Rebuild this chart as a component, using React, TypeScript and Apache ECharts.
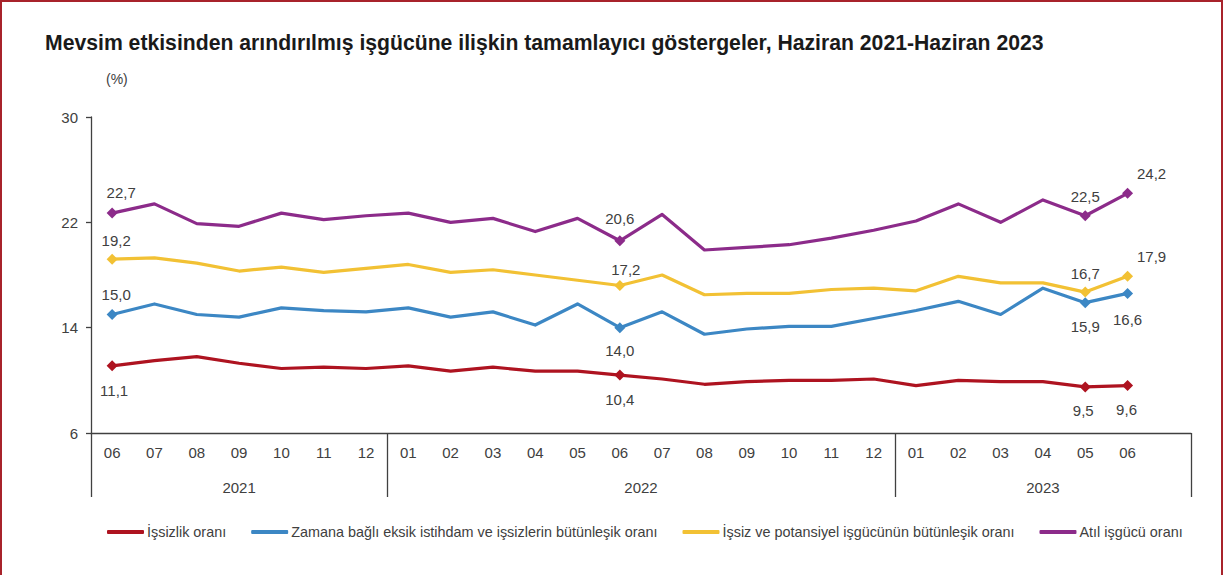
import React, { useEffect, useRef } from "react";
import * as echarts from "echarts";

const TITLE = "Mevsim etkisinden arındırılmış işgücüne ilişkin tamamlayıcı göstergeler, Haziran 2021-Haziran 2023";
const UNIT = "(%)";

const MONTHS = [
  "06", "07", "08", "09", "10", "11", "12",
  "01", "02", "03", "04", "05", "06", "07", "08", "09", "10", "11", "12",
  "01", "02", "03", "04", "05", "06",
];
const YEARS = ["2021", "2022", "2023"];
const YEAR_MONTH_COUNTS = [7, 12, 6];
const PAD_SLOTS = 1; // empty category slot after the last month
const Y_TICKS = [6, 14, 22, 30];

const SERIES_NAMES = [
  "İşsizlik oranı",
  "Zamana bağlı eksik istihdam ve işsizlerin bütünleşik oranı",
  "İşsiz ve potansiyel işgücünün bütünleşik oranı",
  "Atıl işgücü oranı",
];

const ISSIZLIK = [11.1, 11.5, 11.8, 11.3, 10.9, 11.0, 10.9, 11.1, 10.7, 11.0, 10.7, 10.7, 10.4, 10.1, 9.7, 9.9, 10.0, 10.0, 10.1, 9.6, 10.0, 9.9, 9.9, 9.5, 9.6];
const ZAMANA_BAGLI = [15.0, 15.8, 15.0, 14.8, 15.5, 15.3, 15.2, 15.5, 14.8, 15.2, 14.2, 15.8, 14.0, 15.2, 13.5, 13.9, 14.1, 14.1, 14.7, 15.3, 16.0, 15.0, 17.0, 15.9, 16.6];
const POTANSIYEL = [19.2, 19.3, 18.9, 18.3, 18.6, 18.2, 18.5, 18.8, 18.2, 18.4, 18.0, 17.6, 17.2, 18.0, 16.5, 16.6, 16.6, 16.9, 17.0, 16.8, 17.9, 17.4, 17.4, 16.7, 17.9];
const ATIL = [22.7, 23.4, 21.9, 21.7, 22.7, 22.2, 22.5, 22.7, 22.0, 22.3, 21.3, 22.3, 20.6, 22.6, 19.9, 20.1, 20.3, 20.8, 21.4, 22.1, 23.4, 22.0, 23.7, 22.5, 24.2];

const LABELED_INDICES = [0, 12, 23, 24];

// styles (kept apart from data)
const COLORS = ["#AE1320", "#3C87C4", "#F2C134", "#8C2B8A"];
const LABEL_OFFSETS: Record<number, number[]>[] = [
  { 0: [2, 25], 12: [0, 24], 23: [-2, 24], 24: [-1, 24] },
  { 0: [4, -20], 12: [0, 23], 23: [0, 24], 24: [0, 26] },
  { 0: [4, -19], 12: [6, -16], 23: [0, -19], 24: [24, -20] },
  { 0: [9, -21], 12: [0, -22], 23: [0, -19], 24: [24, -20] },
];

const FONT = "'Liberation Sans', Arial, sans-serif";
const TEXT_COLOR = "#404040";
const AXIS_COLOR = "#404040";

function fmt(v: number) {
  return v.toFixed(1).replace(".", ",");
}

export default function App() {
  const ref = useRef<HTMLDivElement>(null);

  useEffect(() => {
    if (!ref.current) return;
    const chart = echarts.init(ref.current, undefined, { renderer: "svg" });

    const categories = [...MONTHS, ...Array(PAD_SLOTS).fill("")];
    const totalSlots = categories.length;

    // year group boundaries and centers
    const bounds: number[] = [0];
    YEAR_MONTH_COUNTS.forEach((c, i) => {
      const extra = i === YEAR_MONTH_COUNTS.length - 1 ? PAD_SLOTS : 0;
      bounds.push(bounds[bounds.length - 1] + c + extra);
    });
    const centers = YEARS.map((_, i) => (bounds[i] + bounds[i + 1]) / 2);

    const allSeries = [ISSIZLIK, ZAMANA_BAGLI, POTANSIYEL, ATIL];

    const series = allSeries.map((vals, si) => ({
      name: SERIES_NAMES[si],
      type: "line",
      xAxisIndex: 0,
      yAxisIndex: 0,
      symbol: "diamond",
      symbolSize: 0,
      showSymbol: true,
      z: 2 + si,
      lineStyle: { color: COLORS[si], width: 3.2, cap: "round", join: "round" },
      itemStyle: { color: COLORS[si] },
      emphasis: { disabled: true },
      label: { show: false },
      data: vals.map((v, i) => {
        if (LABELED_INDICES.indexOf(i) < 0) return v;
        const off = LABEL_OFFSETS[si][i] || [0, -20];
        return {
          value: v,
          symbolSize: 11,
          label: {
            show: true,
            position: "inside",
            offset: off,
            formatter: () => fmt(v),
            fontSize: 15,
            fontFamily: FONT,
            color: TEXT_COLOR,
          },
        };
      }),
    }));

    chart.setOption({
      animation: false,
      backgroundColor: "#ffffff",
      title: {
        text: TITLE,
        left: 40,
        top: 27,
        textStyle: { fontFamily: FONT, fontSize: 21.2, fontWeight: "bold", color: "#1a1a1a" },
      },
      legend: {
        top: 520,
        left: 102,
        icon: "roundRect",
        itemWidth: 37,
        itemHeight: 4,
        itemGap: 25,
        selectedMode: false,
        textStyle: { fontFamily: FONT, fontSize: 14.4, color: TEXT_COLOR, padding: [0, 0, 0, -2] },
        data: SERIES_NAMES,
      },
      grid: { left: 91, right: 34, top: 117, bottom: 142 },
      xAxis: [
        {
          type: "category",
          data: categories,
          boundaryGap: true,
          position: "bottom",
          axisLine: { show: true, onZero: false, lineStyle: { color: AXIS_COLOR, width: 1.3 } },
          axisTick: { show: false },
          axisLabel: { fontFamily: FONT, fontSize: 15, color: TEXT_COLOR, margin: 12, interval: 0 },
          splitLine: { show: false },
        },
        {
          type: "value",
          min: 0,
          max: totalSlots,
          position: "bottom",
          axisLine: { show: false, onZero: false },
          axisTick: {
            show: true,
            customValues: bounds,
            length: 64,
            lineStyle: { color: AXIS_COLOR, width: 1.3 },
          },
          axisLabel: {
            show: true,
            customValues: centers,
            formatter: (v: number) => {
              const idx = centers.findIndex((c) => Math.abs(c - v) < 1e-6);
              return idx >= 0 ? YEARS[idx] : "";
            },
            fontFamily: FONT,
            fontSize: 15,
            color: TEXT_COLOR,
            margin: 47,
          },
          splitLine: { show: false },
        },
      ],
      yAxis: {
        type: "value",
        min: Y_TICKS[0],
        max: Y_TICKS[Y_TICKS.length - 1],
        axisLine: { show: true, lineStyle: { color: AXIS_COLOR, width: 1.3 } },
        axisTick: { show: true, customValues: Y_TICKS, length: 5, lineStyle: { color: AXIS_COLOR, width: 1.3 } },
        axisLabel: { customValues: Y_TICKS, fontFamily: FONT, fontSize: 15, color: TEXT_COLOR, margin: 13 },
        splitLine: { show: false },
      },
      graphic: [
        {
          type: "rect",
          silent: true,
          shape: { x: 1, y: 1, width: 1221, height: 600 },
          style: { fill: "none", stroke: "#A8232B", lineWidth: 2 },
        },
        {
          type: "text",
          left: 106,
          top: 72,
          silent: true,
          style: { text: UNIT, fontFamily: FONT, fontSize: 14, fill: TEXT_COLOR },
        },
      ],
      series,
    });

    return () => chart.dispose();
  }, []);

  return (
    <div
      ref={ref}
      style={{ position: "fixed", left: 0, top: 0, width: 1225, height: 575 }}
    />
  );
}
